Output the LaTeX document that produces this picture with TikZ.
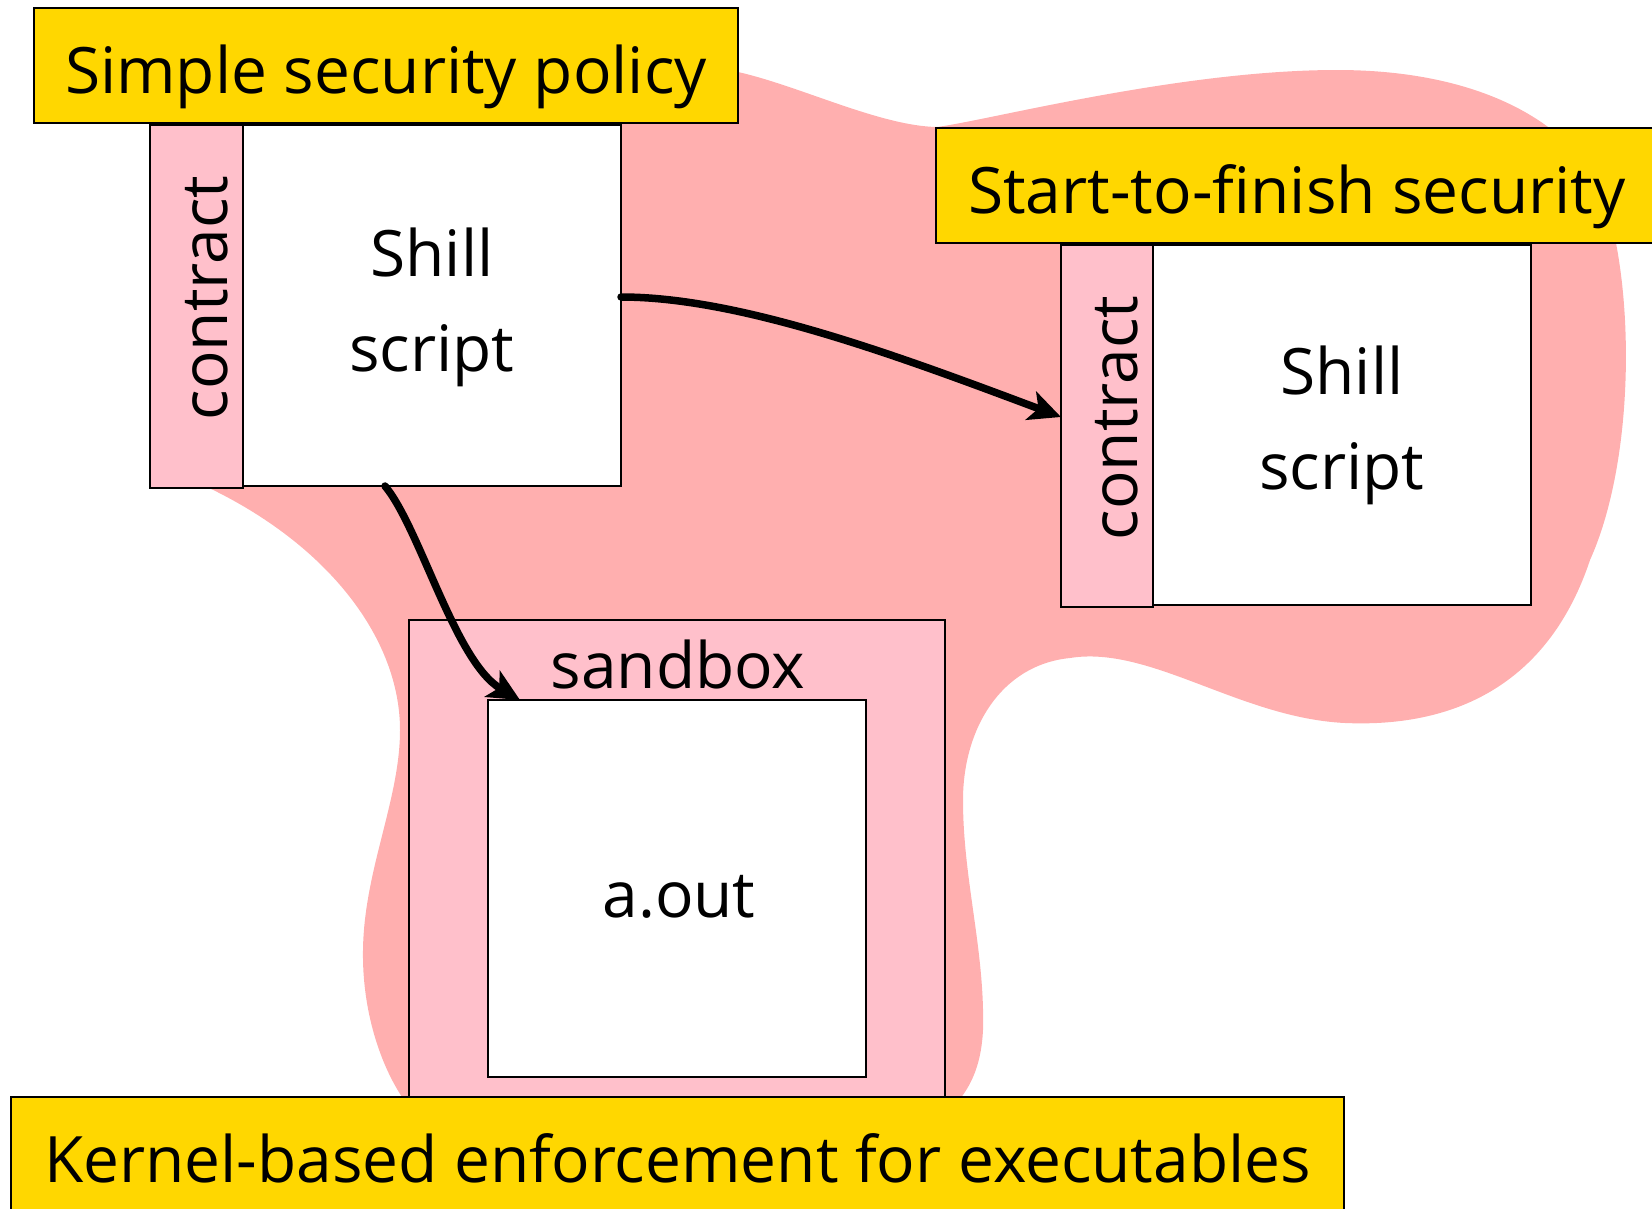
\documentclass[tikz,border=0pt]{standalone}
\usepackage{fontspec}
\setmainfont{Open Sans}
\usetikzlibrary{arrows.meta}
\definecolor{bannerfill}{HTML}{FFD700}
\definecolor{regionfill}{HTML}{FFAFAF}
\definecolor{guardfill}{HTML}{FFC0CB}
\begin{document}
\begin{tikzpicture}[x=1pt,y=-1pt,
  every node/.style={font=\fontsize{64}{77}\selectfont, inner sep=0pt, outer sep=0pt},
  banner/.style={draw=black, line width=2pt, fill=bannerfill, text height=56pt, text depth=0pt},
  guardbox/.style={draw=black, line width=2pt, fill=guardfill},
  codebox/.style={draw=black, line width=2pt, fill=white},
  lbl/.style={anchor=base},
  vlbl/.style={anchor=base, rotate=90},
  flow/.style={line width=7.5pt, line cap=round, -{Stealth[length=32pt,width=30pt,inset=8pt]}}
]
\path[use as bounding box] (0,0) rectangle (1652,1208);
\clip (0,0) rectangle (1652,1208);

% shaded trust region behind everything
\fill[regionfill] (738,72)
  .. controls (800,86) and (880,126) .. (937,127)
  .. controls (990,120) and (1180,70) .. (1337,70)
  .. controls (1490,70) and (1580,130) .. (1605,200)
  .. controls (1635,290) and (1635,460) .. (1590,560)
  .. controls (1550,680) and (1460,728) .. (1345,723)
  .. controls (1240,718) and (1150,645) .. (1070,658)
  .. controls (1000,665) and (963,730) .. (963,800)
  .. controls (963,880) and (985,950) .. (983,1030)
  .. controls (981,1070) and (968,1090) .. (955,1105)
  -- (955,1180) -- (404,1180) -- (404,1100)
  .. controls (380,1065) and (362,1010) .. (363,950)
  .. controls (364,870) and (400,800) .. (400,730)
  .. controls (400,640) and (330,545) .. (205,486)
  -- (190,470) -- (190,130) -- (400,60) -- cycle;

% first script with its contract
\node[guardbox, minimum width=93pt, minimum height=363pt] (c1) at (196.5,306.5) {};
\node[codebox, minimum width=378pt, minimum height=361pt] (s1) at (432,305.5) {};
\node[vlbl] (c1t) at (227,298) {contract};
\node[lbl] (s1a) at (432,276) {Shill};
\node[lbl] (s1b) at (432,371) {script};

% second script with its contract
\node[guardbox, minimum width=92pt, minimum height=362pt] (c2) at (1107,426) {};
\node[codebox, minimum width=378pt, minimum height=360pt] (s2) at (1342,425) {};
\node[vlbl] (c2t) at (1137,418) {contract};
\node[lbl] (s2a) at (1342,394) {Shill};
\node[lbl] (s2b) at (1342,489) {script};

% sandboxed executable
\node[guardbox, minimum width=536pt, minimum height=490pt] (sb) at (677,865) {};
\node[lbl] (sbt) at (678,688) {sandbox};
\node[codebox, minimum width=378pt, minimum height=377pt] (ao) at (677,888.5) {};
\node[lbl] (aot) at (679,917) {a.out};

% connectors
\draw[flow] ([yshift=8.5pt]s1.east) .. controls +(120,0) and +(-160,-60) .. ([yshift=9pt]c2.west);
\draw[flow] ([xshift=-47pt]s1.south) .. controls +(35,42) and +(-65,-38) .. ([xshift=-157pt]ao.north);

% banners
\node[banner, minimum width=704pt, minimum height=115pt] (b1) at (386,65.5) {Simple security policy};
\node[banner, minimum width=722pt, minimum height=115pt] (b2) at (1297,185.5) {Start-to-finish security};
\node[banner, minimum width=1333pt, minimum height=115pt] (b3) at (677.5,1154.5) {Kernel-based enforcement for executables};
\end{tikzpicture}
\end{document}
